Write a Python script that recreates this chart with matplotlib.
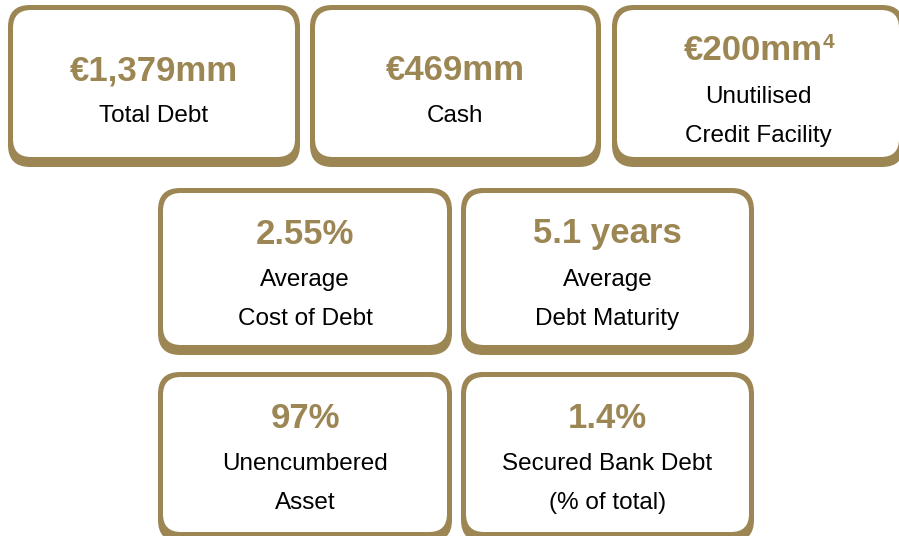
import matplotlib
matplotlib.use("Agg")
import matplotlib.pyplot as plt
from matplotlib.patches import FancyBboxPatch

# Key figures shown in the cards
values = ["€1,379mm", "€469mm", "€200mm", "2.55%", "5.1 years", "97%", "1.4%"]
superscripts = ["", "", "4", "", "", "", ""]
labels = [
    ["Total Debt"],
    ["Cash"],
    ["Unutilised", "Credit Facility"],
    ["Average", "Cost of Debt"],
    ["Average", "Debt Maturity"],
    ["Unencumbered", "Asset"],
    ["Secured Bank Debt", "(% of total)"],
]

# Card layout in pixels (left, top, width, height)
cards = [
    (8, 5, 292, 162),
    (310, 5, 291, 162),
    (612, 5, 292, 162),
    (158, 188, 294, 167),
    (461, 188, 293, 167),
    (158, 372, 294, 170),
    (461, 372, 293, 170),
]

gold = "#9c8654"
plt.rcParams["font.family"] = ["Liberation Sans", "DejaVu Sans"]

fig = plt.figure(figsize=(8.99, 5.36), dpi=100)
ax = fig.add_axes([0, 0, 1, 1])
ax.set_xlim(0, 899)
ax.set_ylim(536, 0)
ax.axis("off")

for (x, y, w, h), val, sup, lab in zip(cards, values, superscripts, labels):
    # gold frame with a thicker bottom edge, then white card on top
    ax.add_patch(FancyBboxPatch((x, y), w, h, boxstyle="round,pad=0,rounding_size=22",
                                fc=gold, ec="none"))
    ax.add_patch(FancyBboxPatch((x + 5, y + 5), w - 10, h - 15,
                                boxstyle="round,pad=0,rounding_size=18",
                                fc="white", ec="none"))
    cx = x + w / 2
    if len(lab) == 1:
        vy, ly = y + 66, [y + 111]
    else:
        vy, ly = y + 46, [y + 92, y + 131]
    t = ax.text(cx - (5 if sup else 0), vy, val, ha="center", va="center",
                fontsize=25, fontweight="bold", color=gold)
    if sup:
        ax.annotate(sup, xy=(1, 1), xycoords=t, xytext=(0, 1), textcoords="offset points",
                    ha="left", va="top", fontsize=15, fontweight="bold", color=gold)
    for line, yy in zip(lab, ly):
        ax.text(cx, yy, line, ha="center", va="center", fontsize=17.5, color="black")

fig.savefig("out.png", dpi=100)
